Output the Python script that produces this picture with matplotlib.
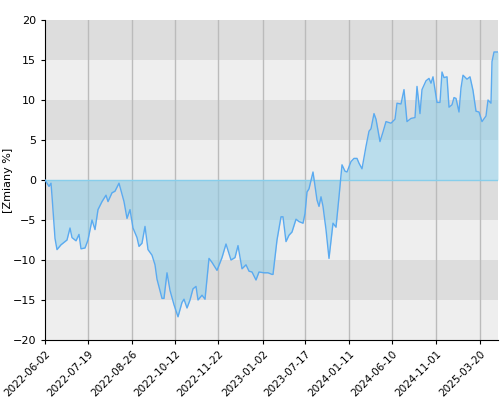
import matplotlib
matplotlib.use('Agg')
import matplotlib.pyplot as plt

# Session positions (trading-day axis) and percent changes
sessions = [0, 4, 6, 7, 10, 12, 16, 19, 22, 25, 27, 31, 34, 36, 40, 43, 47, 50, 53, 57, 61, 63, 67,
            70, 74, 79, 82, 85, 88, 92, 94, 97, 100, 103, 107, 110, 112, 117, 119, 122, 125, 129,
            133, 137, 139, 142, 145, 148, 151, 153, 157, 160, 164, 167, 172, 177, 181, 186, 190,
            193, 197, 201, 204, 207, 211, 214, 219, 223, 227, 228, 232, 236, 238, 241, 244, 247,
            251, 254, 258, 260, 262, 264, 268, 270, 272, 274, 276, 278, 281, 284, 288, 291, 294,
            297, 300, 302, 306, 309, 312, 314, 317, 321, 324, 326, 329, 331, 335, 338, 341, 346,
            350, 352, 356, 359, 362, 366, 370, 372, 375, 377, 381, 384, 386, 388, 392, 395, 397,
            399, 402, 404, 407, 409, 411, 414, 416, 418, 422, 425, 428, 431, 434, 437, 441, 443,
            446, 447, 449, 452, 453]
values = [0, -0.8, -0.4, -2, -7.3, -8.7, -8.1, -7.8, -7.5, -6, -7.2, -7.6, -6.8, -8.6, -8.5,
          -7.5, -5, -6.2, -3.7, -2.7, -1.9, -2.7, -1.6, -1.4, -0.4, -2.7, -4.8, -3.7, -6, -7.2,
          -8.3, -7.9, -5.8, -8.7, -9.4, -10.6, -12.4, -14.8, -14.8, -11.6, -13.8, -15.6, -17.1,
          -15.3, -14.9, -16, -15, -13.6, -13.3, -15, -14.4, -14.9, -9.8, -10.3, -11.3, -9.7, -8,
          -10, -9.7, -8.2, -11.1, -10.6, -11.4, -11.5, -12.5, -11.5, -11.6, -11.6, -11.8, -11.8,
          -7.5, -4.6, -4.6, -7.7, -6.9, -6.5, -4.9, -5.2, -5.4, -4.2, -1.5, -1.1, 1.0, -0.8,
          -2.5, -3.3, -2.1, -3.3, -6.2, -9.8, -5.4, -5.9, -2.1, 1.9, 1.1, 1.0, 2.3, 2.7, 2.7,
          2.1, 1.4, 4.2, 6.1, 6.4, 8.3, 7.6, 4.8, 6, 7.3, 7.1, 7.6, 9.6, 9.5, 11.3, 7.3, 7.7,
          7.8, 11.7, 8.3, 11.3, 12.4, 12.7, 12.1, 12.9, 9.7, 9.7, 13.5, 12.8, 12.9, 9.1, 9.4,
          10.3, 10.2, 8.5, 11.5, 13.1, 12.6, 12.9, 11.2, 8.6, 8.5, 7.3, 8, 10, 9.6, 14.8, 16,
          16, 16]
tick_pos = [0, 43, 87, 130, 173, 218, 260, 304, 347, 391, 435]
tick_labels = ['2022-06-02', '2022-07-19', '2022-08-26', '2022-10-12', '2022-11-22',
               '2023-01-02', '2023-07-17', '2024-01-11', '2024-06-10', '2024-11-01', '2025-03-20']

fig = plt.figure(figsize=(5, 4), dpi=100)
ax = fig.add_axes([0.09, 0.15, 0.906, 0.80])

# Alternating horizontal bands
for i, low in enumerate(range(-20, 20, 5)):
    ax.axhspan(low, low + 5, color='#eeeeee' if i % 2 == 0 else '#dddddd', zorder=0, lw=0)

for p in tick_pos[1:]:
    ax.axvline(p, color='#bbbbbb', lw=1, zorder=1)

ax.fill_between(sessions, values, 0, color='#87ceeb', alpha=0.5, lw=0, zorder=2)
ax.axhline(0, color='#87ceeb', lw=1, zorder=3)
ax.plot(sessions, values, color='#5aaaf0', lw=1, zorder=4)

ax.set_xlim(0, 453)
ax.set_ylim(-20, 20)
ax.set_yticks(range(-20, 21, 5))
ax.set_xticks(tick_pos)
ax.set_xticklabels(tick_labels, rotation=45, ha='right', rotation_mode='anchor', fontsize=7.5)
ax.tick_params(axis='y', labelsize=8)
ax.tick_params(length=3)
ax.set_ylabel('[Zmiany %]', fontsize=8)
ax.yaxis.set_label_coords(-0.07, 0.5)
for s in ['top', 'right']:
    ax.spines[s].set_visible(False)

fig.savefig('out.png', dpi=100)
